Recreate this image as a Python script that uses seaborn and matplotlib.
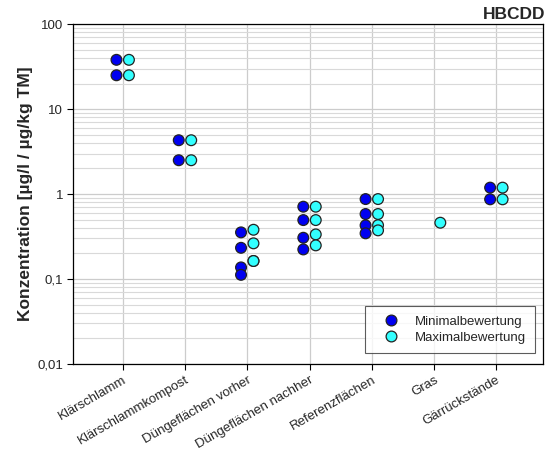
import numpy as np
import pandas as pd
import matplotlib
matplotlib.use("Agg")
import matplotlib.pyplot as plt
from matplotlib.ticker import FixedLocator, LogLocator, NullFormatter
import seaborn as sns

categories = ["Klärschlamm", "Klärschlammkompost", "Düngeflächen vorher",
              "Düngeflächen nachher", "Referenzflächen", "Gras", "Gärrückstände"]

# HBCDD concentrations per sample group
min_values = [
    [38, 25],
    [4.3, 2.5],
    [0.354, 0.233, 0.137, 0.112],
    [0.71, 0.494, 0.306, 0.223],
    [0.873, 0.582, 0.428, 0.345],
    [],
    [1.19, 0.867],
]
max_values = [
    [38, 25],
    [4.3, 2.5],
    [0.38, 0.263, 0.163, 0.163],
    [0.71, 0.494, 0.335, 0.249],
    [0.873, 0.582, 0.43, 0.374],
    [0.46],
    [1.19, 0.867],
]
series_names = ["Minimalbewertung", "Maximalbewertung"]
series_colors = ["#0000F0", "#33FFFF"]
series_offsets = [-0.1, 0.1]

rows = []
for s, (name, vals) in enumerate(zip(series_names, [min_values, max_values])):
    for i, group in enumerate(vals):
        for v in group:
            rows.append({"pos": i + series_offsets[s], "value": v, "Bewertung": name})
df = pd.DataFrame(rows)

sns.set_style("white")
plt.rcParams["font.family"] = ["Liberation Sans", "DejaVu Sans"]

fig = plt.figure(figsize=(5.48, 4.55), dpi=100)
ax = fig.add_axes([0.133, 0.2, 0.858, 0.747])

sns.scatterplot(data=df, x="pos", y="value", hue="Bewertung",
                palette=dict(zip(series_names, series_colors)),
                s=60, edgecolor="#222222", linewidth=0.9, ax=ax, zorder=3)

ax.set_yscale("log")
ax.set_ylim(0.01, 100)
ax.set_xlim(-0.8, 6.75)
major = [0.01, 0.1, 1, 10, 100]
ax.yaxis.set_major_locator(FixedLocator(major))
ax.set_yticklabels(["0,01", "0,1", "1", "10", "100"])
ax.yaxis.set_minor_locator(LogLocator(base=10, subs=np.arange(2, 10)))
ax.yaxis.set_minor_formatter(NullFormatter())
ax.tick_params(axis="y", which="minor", length=0)
ax.tick_params(axis="both", which="major", direction="out", length=4,
               width=0.8, color="black", labelsize=9.5, left=True, bottom=True,
               pad=3)

ax.set_xticks(range(len(categories)))
ax.set_xticklabels(categories, rotation=30, ha="right", rotation_mode="anchor")

ax.grid(True, which="major", axis="both", color="#cccccc", linewidth=0.9, zorder=0)
ax.grid(True, which="minor", axis="y", color="#d9d9d9", linewidth=0.8, zorder=0)
ax.set_axisbelow(True)

for sp in ax.spines.values():
    sp.set_color("black")
    sp.set_linewidth(0.9)

ax.set_xlabel("")
ax.set_ylabel("Konzentration [µg/l / µg/kg TM]", fontsize=12.5, fontweight="bold", labelpad=3)
fig.text(0.995, 0.968, "HBCDD", ha="right", va="center", fontsize=12.5, fontweight="bold")

leg = ax.legend(loc="lower right", bbox_to_anchor=(0.983, 0.032), fontsize=9.5,
                frameon=True, fancybox=False, edgecolor="#333333",
                borderpad=0.7, handlelength=2.6, handletextpad=0.5,
                labelspacing=0.3, borderaxespad=0.0, title=None)
leg.get_frame().set_linewidth(0.8)
for h in leg.legend_handles:
    if hasattr(h, "set_markeredgecolor"):
        h.set_markeredgecolor("#222222")

fig.savefig("out.png", dpi=100)
